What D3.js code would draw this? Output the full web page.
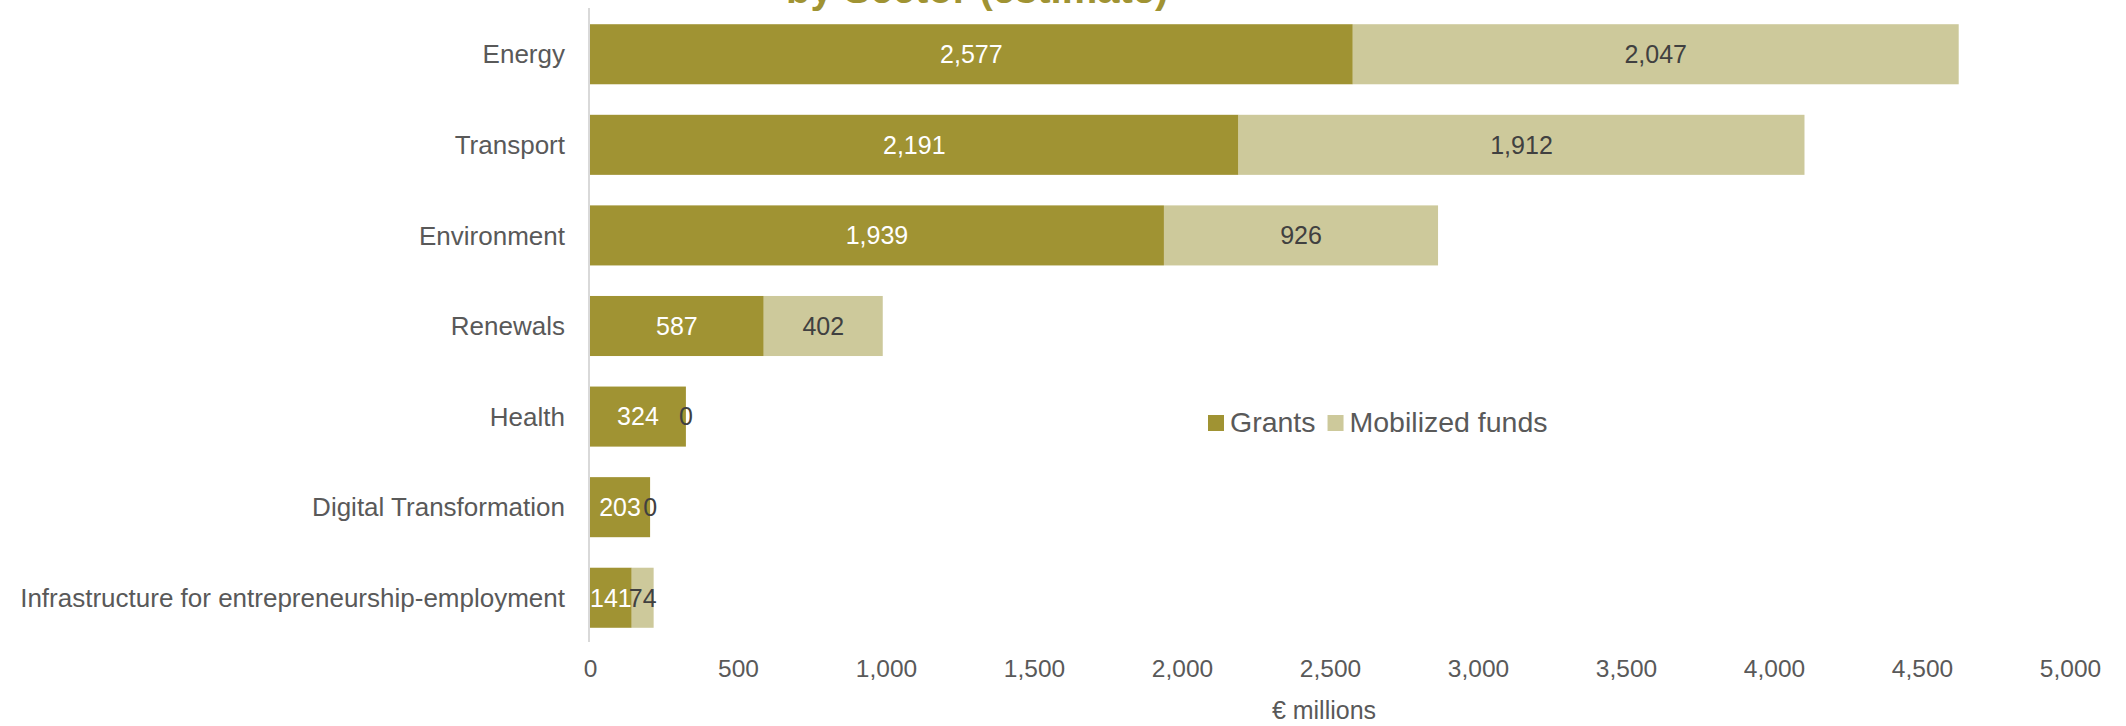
<!DOCTYPE html>
<html>
<head>
<meta charset="utf-8">
<script src="https://cdn.jsdelivr.net/npm/d3@7"></script>
<style>
  html, body { margin: 0; padding: 0; background: #ffffff; }
  svg { display: block; font-family: "Liberation Sans", Arial, sans-serif; }
</style>
</head>
<body>
<svg id="chart" width="2126" height="726"></svg>
<script>
// Sectors, top to bottom
const sectors = [
  "Energy",
  "Transport",
  "Environment",
  "Renewals",
  "Health",
  "Digital Transformation",
  "Infrastructure for entrepreneurship-employment"
];
// € millions
const grants = [2577, 2191, 1939, 587, 324, 203, 141];
const mobilized = [2047, 1912, 926, 402, 0, 0, 74];
const seriesNames = ["Grants", "Mobilized funds"];
const xTicks = [0, 500, 1000, 1500, 2000, 2500, 3000, 3500, 4000, 4500, 5000];

const colors = { grants: "#A09333", mobilized: "#CDC99B" };
const textGray = "#595959";

const svg = d3.select("#chart");

const x = d3.scaleLinear().domain([0, 5000]).range([590, 2070]);
const y = d3.scaleBand().domain(sectors).range([9, 643]).paddingInner(0.337).paddingOuter(0.168);

const rows = sectors.map((s, i) => ({ sector: s, grants: grants[i], mobilized: mobilized[i] }));
const fmt = d3.format(",");

// Title (last line, partially above the frame)
svg.append("text")
  .attr("x", 786).attr("y", 3)
  .attr("font-size", 40).attr("font-weight", "bold")
  .attr("fill", "#A09333")
  .text("by Sector (estimate)");

// Grants segments
svg.append("g").selectAll("rect").data(rows).join("rect")
  .attr("x", x(0))
  .attr("y", d => y(d.sector))
  .attr("width", d => x(d.grants) - x(0))
  .attr("height", y.bandwidth())
  .attr("fill", colors.grants);

// Mobilized funds segments
svg.append("g").selectAll("rect").data(rows).join("rect")
  .attr("x", d => x(d.grants))
  .attr("y", d => y(d.sector))
  .attr("width", d => x(d.grants + d.mobilized) - x(d.grants))
  .attr("height", y.bandwidth())
  .attr("fill", colors.mobilized);

// Vertical category axis line
svg.append("line")
  .attr("x1", x(0) - 1).attr("x2", x(0) - 1)
  .attr("y1", 8).attr("y2", 642)
  .attr("stroke", "#D9D9D9").attr("stroke-width", 2);

// Category labels
svg.append("g").selectAll("text").data(rows).join("text")
  .attr("x", 565)
  .attr("y", d => y(d.sector) + y.bandwidth() / 2)
  .attr("dy", "0.35em")
  .attr("text-anchor", "end")
  .attr("font-size", 26)
  .attr("fill", textGray)
  .text(d => d.sector);

// Value labels
svg.append("g").selectAll("text").data(rows).join("text")
  .attr("x", d => (x(0) + x(d.grants)) / 2)
  .attr("y", d => y(d.sector) + y.bandwidth() / 2)
  .attr("dy", "0.35em")
  .attr("text-anchor", "middle")
  .attr("font-size", 25)
  .attr("fill", "#ffffff")
  .text(d => fmt(d.grants));

svg.append("g").selectAll("text").data(rows).join("text")
  .attr("x", d => (x(d.grants) + x(d.grants + d.mobilized)) / 2)
  .attr("y", d => y(d.sector) + y.bandwidth() / 2)
  .attr("dy", "0.35em")
  .attr("text-anchor", "middle")
  .attr("font-size", 25)
  .attr("fill", "#404040")
  .text(d => fmt(d.mobilized));

// X axis tick labels (no axis line)
const xAxis = d3.axisBottom(x).tickValues(xTicks).tickFormat(fmt).tickSize(0).tickPadding(0);
const gx = svg.append("g").attr("transform", "translate(0,660)").call(xAxis);
gx.select(".domain").remove();
gx.selectAll("text")
  .attr("font-size", 24.5)
  .attr("font-family", "Liberation Sans, Arial, sans-serif")
  .attr("fill", textGray)
  .attr("dy", "0.71em");

// Axis title
svg.append("text")
  .attr("x", (x(0) + x(5000)) / 2 - 6)
  .attr("y", 710).attr("dy", "0.35em")
  .attr("text-anchor", "middle")
  .attr("font-size", 25)
  .attr("fill", textGray)
  .text("€ millions");

// Legend
const legend = svg.append("g").attr("transform", "translate(1208,415)");
let offset = 0;
seriesNames.forEach((name, i) => {
  const g = legend.append("g").attr("transform", `translate(${offset},0)`);
  g.append("rect").attr("width", 16).attr("height", 16)
    .attr("fill", i === 0 ? colors.grants : colors.mobilized);
  const t = g.append("text")
    .attr("x", 22).attr("y", 17)
    .attr("font-size", 28.5)
    .attr("fill", textGray)
    .text(name);
  offset += 22 + t.node().getComputedTextLength() + 12;
});
</script>
</body>
</html>
